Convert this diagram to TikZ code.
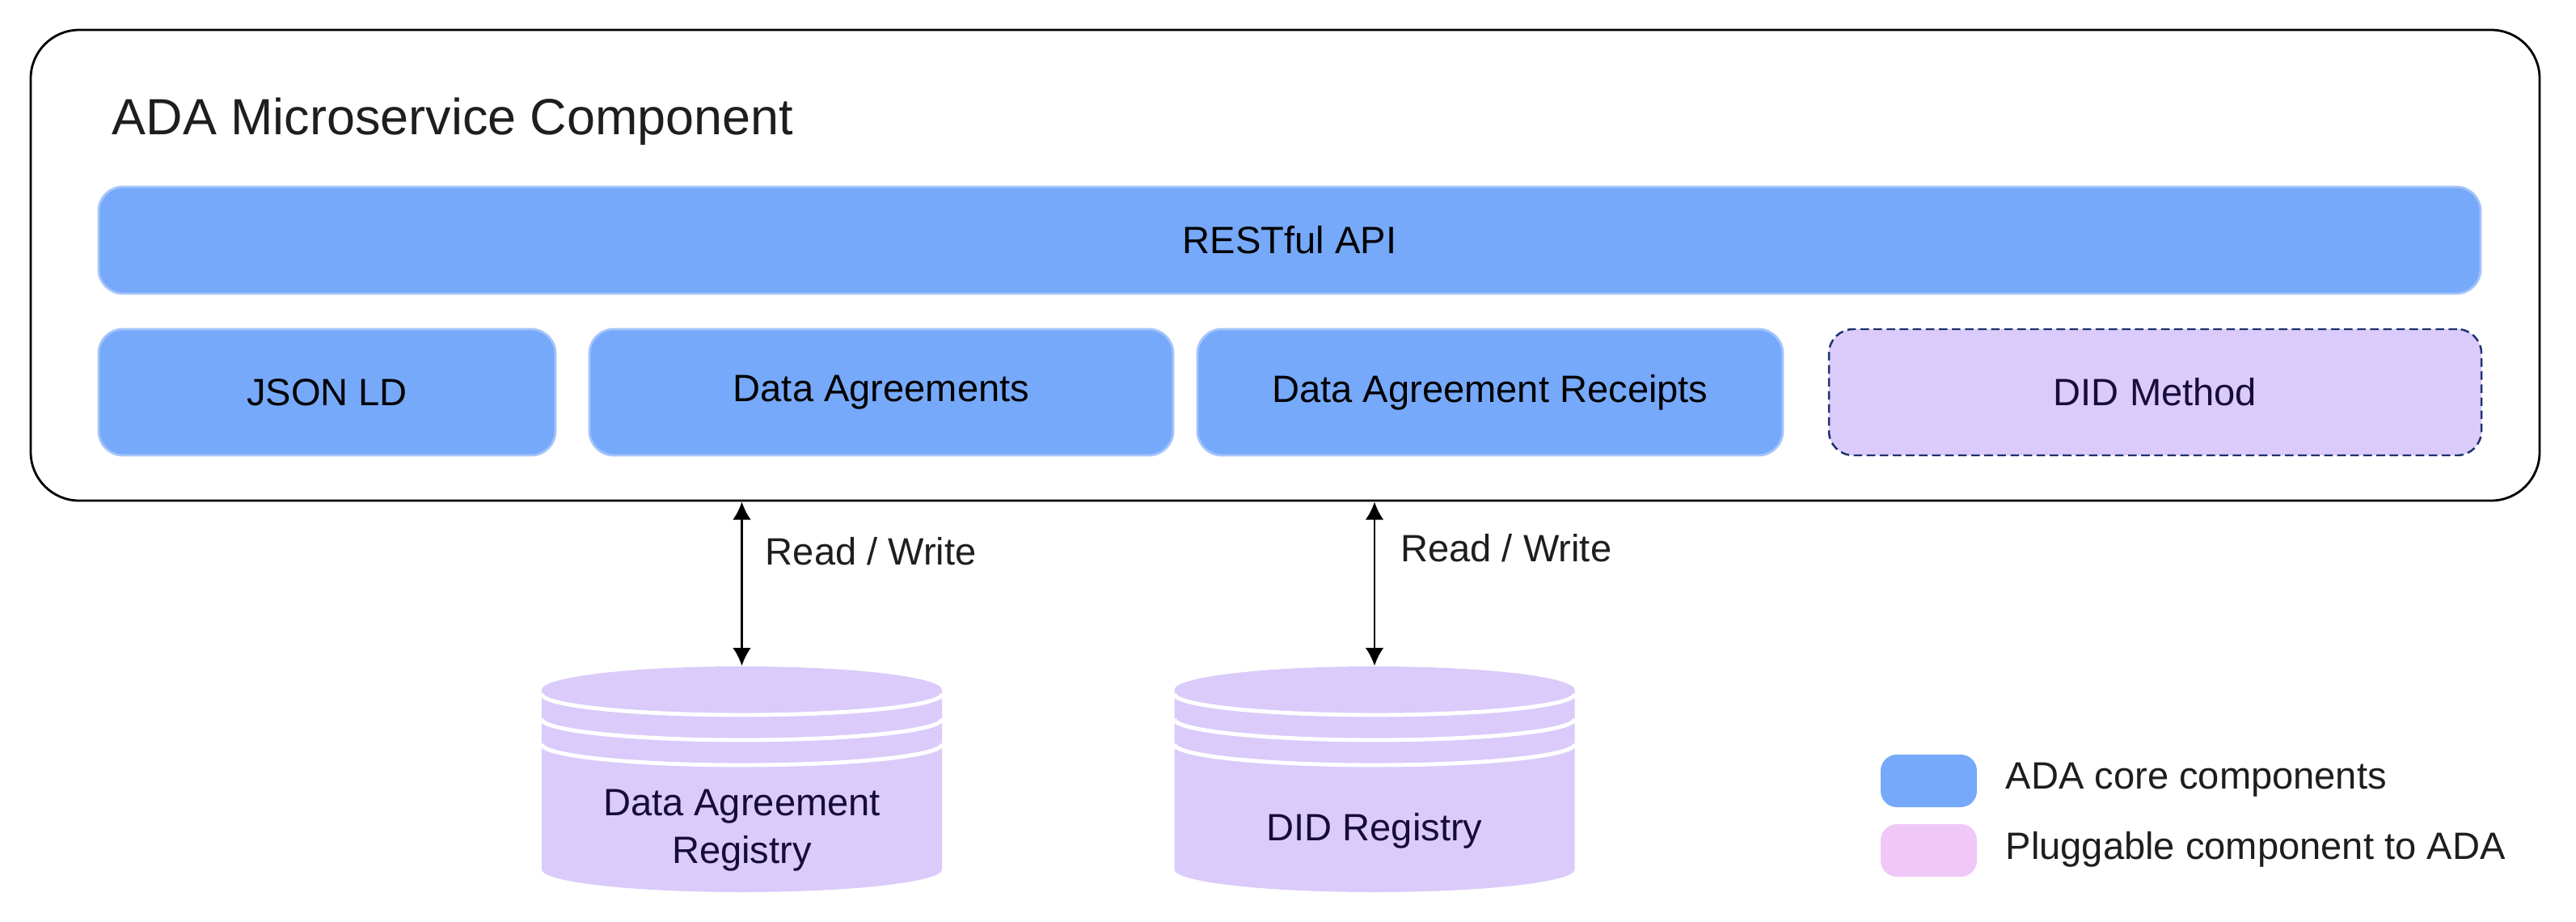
\documentclass[tikz,border=0pt]{standalone}
\usepackage{fontspec}
\setmainfont{Liberation Sans}
\usepackage{xcolor}
\usetikzlibrary{arrows.meta}
\definecolor{coreblue}{RGB}{118,169,250}
\definecolor{coreedge}{RGB}{164,196,250}
\definecolor{lav}{RGB}{218,203,250}
\definecolor{plugedge}{RGB}{30,50,110}
\definecolor{plugpink}{RGB}{240,200,248}
\definecolor{navytext}{RGB}{22,12,60}
\definecolor{textgrey}{RGB}{30,30,30}
\newcommand{\regcyl}[3]{
  \begin{scope}[shift={(#2,0)}]
    \fill[lav] (-2.475,-8.53)--(-2.475,-10.75)
      arc[start angle=180,end angle=360,x radius=2.475,y radius=0.28]--(2.475,-8.53)
      arc[start angle=0,end angle=180,x radius=2.475,y radius=0.29]--cycle;
    \foreach \y in {8.58,8.89,9.20}{
      \draw[white,line width=1.4pt] (-2.475,-\y) arc[start angle=180,end angle=360,x radius=2.475,y radius=0.26];
    }
  \end{scope}
  \node[inner sep=0,minimum width=4.95cm,minimum height=2.79cm] (#1) at (#2,-9.635) {};
  \node[lbl,text=navytext,align=center] (#1t) at (#2,-10.27) {#3};
}

\begin{document}
\begin{tikzpicture}[
    lbl/.style={inner sep=0,font=\fontsize{13.4}{16.8}\selectfont,text=textgrey},
    core/.style={lbl,draw=coreedge,line width=0.8pt,fill=coreblue,rounded corners=0.3cm,minimum height=1.56cm,text=black},
    plug/.style={core,draw=plugedge,fill=lav,dash pattern=on 3pt off 1.6pt,line width=0.7pt,text=navytext},
    swatch/.style={rounded corners=0.2cm,minimum width=1.19cm,minimum height=0.65cm,inner sep=0},
    >={Latex[length=6.3pt,width=6.4pt]}]
  \useasboundingbox (0,0) rectangle (31.86,-11.40);
  \node[draw,line width=0.8pt,rounded corners=0.6cm,minimum width=31.03cm,minimum height=5.82cm] (M) at (15.895,-3.28) {};
  \node[lbl,anchor=base west,font=\fontsize{17.9}{21}\selectfont] (T) at (1.38,-1.667) {ADA Microservice Component};
  \node[core,minimum width=29.46cm,minimum height=1.32cm] (API) at (15.95,-2.97) {RESTful API};
  \node[core,minimum width=5.65cm] (J) at (4.045,-4.85) {JSON LD};
  \node[core,minimum width=7.22cm] (DA) at (10.90,-4.85) {Data Agreements};
  \node[core,minimum width=7.24cm] (DAR) at (18.43,-4.85) {Data Agreement Receipts};
  \node[plug,minimum width=8.07cm] (DID) at (26.655,-4.85) {DID Method};
  \regcyl{R1}{9.175}{Data Agreement\\Registry}
  \regcyl{R2}{17.0}{DID Registry}
  \draw[<->,line width=0.75pt] (R1.north) -- (R1.north |- M.south) node[lbl,anchor=west,pos=0.7,xshift=0.28cm] (RW1) {Read / Write};
  \draw[<->,line width=0.75pt] (R2.north) -- (R2.north |- M.south) node[lbl,anchor=west,pos=0.72,xshift=0.31cm] (RW2) {Read / Write};
  % legend
  \node[swatch,fill=coreblue] (L1) at (23.855,-9.655) {};
  \node[lbl,anchor=base west] (L1t) at (24.80,-9.75) {ADA core components};
  \node[swatch,fill=plugpink] (L2) at (23.855,-10.515) {};
  \node[lbl,anchor=base west] (L2t) at (24.80,-10.625) {Pluggable component to ADA};
\end{tikzpicture}
\end{document}
